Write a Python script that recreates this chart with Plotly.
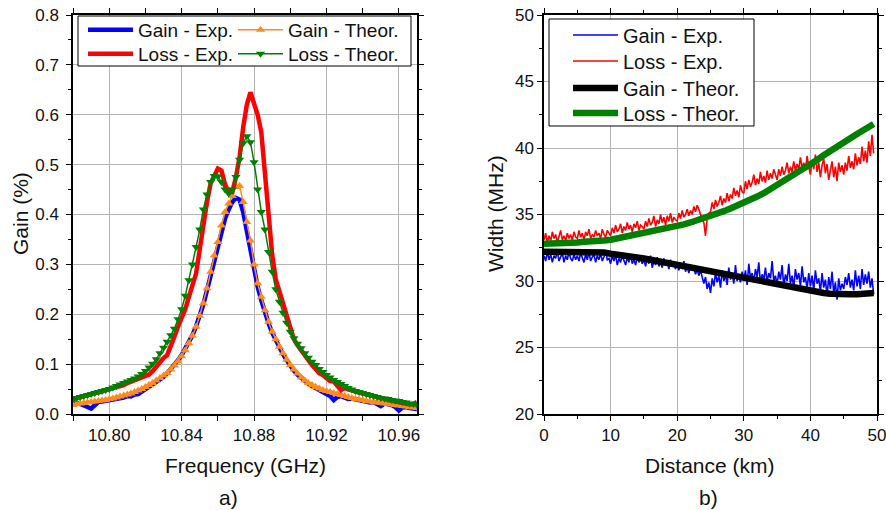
import numpy as np
import plotly.graph_objects as go

# ---------------- Panel a) data ----------------
freq = [round(10.78 + 0.002 * i, 3) for i in range(96)]

gain_exp = [0.020,0.022,0.020,0.018,0.014,0.011,0.018,0.024,0.025,0.026,
            0.027,0.029,0.030,0.030,0.033,0.036,0.035,0.039,0.040,0.045,
            0.050,0.055,0.060,0.066,0.070,0.074,0.082,0.090,0.099,0.108,
            0.118,0.130,0.144,0.158,0.176,0.196,0.220,0.248,0.278,0.310,
            0.338,0.365,0.392,0.410,0.425,0.433,0.430,0.405,0.365,0.330,
            0.290,0.255,0.228,0.203,0.182,0.163,0.147,0.133,0.120,0.108,
            0.096,0.087,0.079,0.072,0.066,0.061,0.056,0.052,0.049,0.045,
            0.040,0.036,0.028,0.034,0.036,0.033,0.030,0.031,0.029,0.027,
            0.026,0.025,0.023,0.024,0.020,0.016,0.021,0.020,0.018,0.014,
            0.007,0.013,0.014,0.012,0.011,0.010]

gain_theor = [0.018,0.020,0.021,0.022,0.023,0.024,0.025,0.026,0.027,0.028,
              0.030,0.031,0.033,0.035,0.037,0.039,0.041,0.044,0.047,0.050,
              0.054,0.058,0.062,0.067,0.072,0.077,0.082,0.089,0.097,0.106,
              0.116,0.128,0.142,0.157,0.175,0.197,0.222,0.252,0.285,0.318,
              0.345,0.378,0.405,0.422,0.437,0.455,0.457,0.425,0.385,0.348,
              0.300,0.262,0.235,0.208,0.185,0.165,0.150,0.135,0.122,0.109,
              0.098,0.089,0.081,0.073,0.067,0.062,0.058,0.054,0.051,0.048,
              0.046,0.044,0.042,0.040,0.038,0.036,0.034,0.032,0.030,0.029,
              0.028,0.026,0.025,0.024,0.023,0.022,0.021,0.020,0.019,0.018,
              0.017,0.016,0.015,0.014,0.013,0.012]

loss_exp = [0.030,0.033,0.034,0.036,0.037,0.040,0.042,0.043,0.045,0.048,
            0.050,0.050,0.052,0.055,0.058,0.062,0.065,0.068,0.070,0.073,
            0.076,0.079,0.086,0.095,0.105,0.112,0.118,0.135,0.155,0.175,
            0.192,0.210,0.235,0.258,0.282,0.330,0.380,0.425,0.462,0.480,
            0.492,0.488,0.460,0.445,0.445,0.475,0.515,0.575,0.620,0.645,
            0.625,0.600,0.565,0.490,0.405,0.320,0.270,0.245,0.222,0.195,
            0.170,0.150,0.138,0.128,0.116,0.106,0.098,0.090,0.082,0.078,
            0.072,0.066,0.065,0.057,0.048,0.052,0.049,0.047,0.045,0.043,
            0.041,0.039,0.037,0.035,0.033,0.031,0.030,0.028,0.027,0.025,
            0.024,0.022,0.020,0.019,0.020,0.024]

loss_theor = [0.030,0.032,0.034,0.036,0.038,0.040,0.042,0.044,0.046,0.048,
              0.050,0.053,0.056,0.059,0.062,0.065,0.068,0.071,0.075,0.080,
              0.086,0.093,0.101,0.110,0.122,0.133,0.145,0.158,0.171,0.190,
              0.210,0.237,0.268,0.300,0.335,0.370,0.410,0.440,0.465,0.477,
              0.476,0.465,0.450,0.442,0.450,0.475,0.510,0.543,0.557,0.545,
              0.505,0.450,0.405,0.370,0.325,0.285,0.250,0.225,0.203,0.183,
              0.165,0.152,0.141,0.132,0.122,0.113,0.105,0.098,0.090,0.084,
              0.078,0.073,0.068,0.064,0.060,0.056,0.052,0.049,0.046,0.044,
              0.042,0.040,0.038,0.036,0.034,0.032,0.031,0.030,0.028,0.027,
              0.026,0.024,0.023,0.021,0.020,0.018]

freq_ticks = [10.80, 10.84, 10.88, 10.92, 10.96]
freq_minor = [10.78, 10.82, 10.86, 10.90, 10.94]

# ---------------- Panel b) data ----------------
dist = [0.25 * i for i in range(199)]

width_gain_exp = [
    31.9,31.5,32.2,31.6,32.0,31.4,31.9,31.7,32.3,31.5,31.8,32.1,31.4,31.9,31.6,32.2,31.7,31.5,32.0,31.6,
    31.9,31.5,32.1,31.7,31.4,32.0,31.6,32.2,31.5,31.8,32.0,31.4,31.9,31.6,32.1,31.5,31.8,32.3,31.6,31.7,
    31.3,31.9,31.5,32.0,31.2,31.7,31.4,31.9,31.6,31.2,31.8,31.4,32.0,31.3,31.6,31.2,31.8,31.4,31.7,31.3,
    31.6,31.1,31.7,31.3,31.9,31.0,31.5,31.2,31.8,31.1,31.4,31.0,31.7,31.2,31.5,30.9,31.6,31.1,31.3,30.9,
    31.4,30.8,31.3,30.9,31.5,30.7,31.1,30.6,31.2,30.8,31.0,30.5,30.9,30.4,30.8,30.2,29.8,30.3,29.4,29.9,
    29.1,30.2,29.6,30.6,29.9,30.4,29.5,30.8,30.0,30.5,29.7,31.0,30.1,30.6,29.8,31.2,30.0,30.4,29.9,30.7,
    30.0,30.8,29.7,31.3,30.2,30.6,29.9,30.9,30.3,31.4,29.8,30.5,30.1,31.0,29.9,30.6,30.2,31.5,30.0,30.4,
    29.7,30.7,30.1,31.2,29.6,30.5,30.0,31.3,29.8,30.4,29.5,30.9,30.1,30.6,29.6,31.1,29.9,30.3,29.4,30.6,
    29.6,30.4,29.3,30.8,29.8,30.2,29.2,30.6,29.5,30.1,28.9,30.3,29.4,30.7,29.1,29.9,28.6,30.2,29.3,29.8,
    29.4,30.3,29.7,30.6,29.5,30.1,29.3,30.8,29.6,30.4,29.4,30.9,29.7,30.5,29.8,30.7,29.5,30.2,29.0]

width_loss_exp = [
    33.1,33.6,32.9,33.4,33.0,33.7,33.2,33.5,32.9,33.3,33.8,33.1,33.4,33.0,33.6,33.2,33.5,33.1,33.7,33.3,
    33.2,33.8,33.3,33.6,33.1,33.7,33.4,33.9,33.2,33.5,33.3,33.8,33.4,33.6,33.2,33.9,33.5,33.3,33.8,33.6,
    33.4,34.0,33.6,34.2,33.7,33.9,34.3,33.6,34.1,33.8,34.4,33.9,34.2,33.7,34.3,34.0,34.5,33.8,34.2,34.1,
    33.9,34.5,34.1,34.7,34.2,34.4,34.9,34.1,34.6,34.3,35.0,34.4,34.8,34.2,34.9,34.5,35.1,34.4,34.8,34.6,
    34.5,35.1,34.7,35.3,34.8,35.0,35.4,34.9,35.3,35.0,35.6,35.2,35.7,35.4,35.0,34.6,34.4,33.4,34.7,35.1,
    35.2,35.9,35.4,36.1,35.6,35.9,36.4,35.7,36.2,35.9,36.6,36.0,36.5,36.2,37.0,36.4,36.8,36.3,37.2,36.7,
    36.6,37.5,36.9,37.6,37.1,37.4,38.0,37.2,37.7,37.3,38.2,37.5,37.9,37.4,38.3,37.6,38.1,37.7,38.4,37.9,
    37.6,38.4,37.9,38.6,38.0,38.3,38.9,38.1,38.6,38.2,39.0,38.3,38.8,38.4,39.3,38.5,38.9,38.3,39.4,38.6,
    38.0,39.1,38.4,39.5,38.2,38.9,37.8,38.7,39.2,38.1,38.8,37.6,38.5,39.0,37.8,38.6,37.5,38.9,38.2,38.7,
    38.0,38.9,38.3,39.4,38.5,39.0,38.4,39.6,38.7,39.3,38.8,40.1,39.0,39.8,38.9,40.5,39.4,41.0,39.6]

dist_theor = list(range(50)) + [49.5]

width_gain_theor = [32.2,32.2,32.2,32.2,32.2,32.2,32.2,32.2,32.2,32.15,
                    32.05,32.0,31.9,31.85,31.75,31.7,31.6,31.5,31.45,31.35,
                    31.25,31.15,31.0,30.9,30.8,30.7,30.6,30.5,30.4,30.3,
                    30.2,30.1,30.0,29.95,29.85,29.75,29.65,29.55,29.45,29.35,
                    29.25,29.2,29.1,29.05,29.0,29.0,29.0,29.0,29.05,29.1,29.1]

width_loss_theor = [32.8,32.8,32.85,32.85,32.9,32.9,32.95,32.95,33.0,33.05,
                    33.1,33.2,33.25,33.35,33.45,33.55,33.65,33.75,33.85,33.95,
                    34.1,34.25,34.4,34.55,34.7,34.85,35.05,35.25,35.45,35.65,
                    35.85,36.1,36.35,36.6,36.9,37.2,37.5,37.8,38.15,38.5,
                    38.8,39.1,39.45,39.8,40.1,40.4,40.75,41.05,41.35,41.6,41.8]

FONT = "Liberation Sans, Arial, sans-serif"
W, H = 886, 510

fig = go.Figure()

# Panel a traces (each in its own one-entry legend, positioned like the reference's 2x2 legend)
fig.add_trace(go.Scatter(x=freq, y=gain_exp, mode="lines", name="Gain - Exp.",
                         line=dict(color="#0000ff", width=4.5), xaxis="x", yaxis="y", legend="legend"))
fig.add_trace(go.Scatter(x=freq, y=gain_theor, mode="lines+markers", name="Gain - Theor.",
                         line=dict(color="#ff8c1a", width=1.5),
                         marker=dict(symbol="triangle-up", size=8, color="#ff8c1a"),
                         xaxis="x", yaxis="y", legend="legend2"))
fig.add_trace(go.Scatter(x=freq, y=loss_exp, mode="lines", name="Loss - Exp.",
                         line=dict(color="#ff0000", width=4.5), xaxis="x", yaxis="y", legend="legend3"))
fig.add_trace(go.Scatter(x=freq, y=loss_theor, mode="lines+markers", name="Loss - Theor.",
                         line=dict(color="#008000", width=1.5),
                         marker=dict(symbol="triangle-down", size=8, color="#008000"),
                         xaxis="x", yaxis="y", legend="legend4"))

# Panel b traces
fig.add_trace(go.Scatter(x=dist, y=width_gain_exp, mode="lines", name="Gain - Exp.",
                         line=dict(color="#0000ff", width=1.6), xaxis="x2", yaxis="y2", legend="legend5"))
fig.add_trace(go.Scatter(x=dist, y=width_loss_exp, mode="lines", name="Loss - Exp.",
                         line=dict(color="#ff0000", width=1.6), xaxis="x2", yaxis="y2", legend="legend6"))
fig.add_trace(go.Scatter(x=dist_theor, y=width_gain_theor, mode="lines", name="Gain - Theor.",
                         line=dict(color="#000000", width=6.5), xaxis="x2", yaxis="y2", legend="legend7"))
fig.add_trace(go.Scatter(x=dist_theor, y=width_loss_theor, mode="lines", name="Loss - Theor.",
                         line=dict(color="#008000", width=6.5), xaxis="x2", yaxis="y2", legend="legend8"))

y_dom = [1 - 414 / H, 1 - 15 / H]
tick_font = dict(family=FONT, size=17, color="#111")
common = dict(showline=True, linecolor="black", linewidth=1.5, mirror="ticks",
              ticks="outside", ticklen=5, tickwidth=1.2, tickcolor="black",
              showgrid=True, gridcolor="#b4b4b4", gridwidth=1, zeroline=False,
              tickfont=tick_font, automargin=False, ticklabeloverflow="allow")

fig.update_layout(
    width=W, height=H, margin=dict(l=0, r=0, t=0, b=0, autoexpand=False),
    paper_bgcolor="white", plot_bgcolor="white",
    font=dict(family=FONT, color="#111"),
    showlegend=True,
    xaxis=dict(domain=[73 / W, 417 / W], range=[10.78, 10.97], anchor="y",
               tickvals=freq_ticks, tickformat=".2f",
               minor=dict(tickvals=freq_minor, ticklen=5, tickcolor="black", ticks="outside", showgrid=False),
               **common),
    yaxis=dict(domain=y_dom, range=[0, 0.8], anchor="x", dtick=0.1, tickformat=".1f",
               ticklabelstandoff=4,
               minor=dict(dtick=0.05, ticklen=3, tickcolor="black", ticks="outside", showgrid=False),
               **common),
    xaxis2=dict(domain=[544 / W, 877 / W], range=[0, 50], anchor="y2", dtick=10,
                minor=dict(dtick=5, ticklen=3, tickcolor="black", ticks="outside", showgrid=False),
                **common),
    yaxis2=dict(domain=y_dom, range=[20, 50], anchor="x2", dtick=5,
                minor=dict(dtick=2.5, ticklen=3, tickcolor="black", ticks="outside", showgrid=False),
                **common),
)

# legend boxes (frames) drawn as shapes
fig.add_shape(type="rect", xref="paper", yref="paper",
              x0=78 / W, x1=411 / W, y0=1 - 66 / H, y1=1 - 16 / H,
              line=dict(color="black", width=1), fillcolor="white", layer="above")
fig.add_shape(type="rect", xref="paper", yref="paper",
              x0=549 / W, x1=754 / W, y0=1 - 126 / H, y1=1 - 19 / H,
              line=dict(color="black", width=1), fillcolor="white", layer="above")

def leg(xtext, ycenter, size, off):
    return dict(x=(xtext - off) / W, y=1 - ycenter / H, xanchor="left", yanchor="middle",
                orientation="v", itemwidth=45, bgcolor="rgba(0,0,0,0)", borderwidth=0,
                font=dict(family=FONT, size=size, color="#111"))

fig.update_layout(
    legend=leg(140, 30, 19, 57),
    legend2=leg(290, 30, 19, 57),
    legend3=leg(140, 54, 19, 57),
    legend4=leg(290, 54, 19, 57),
    legend5=leg(623, 35, 20, 55),
    legend6=leg(623, 61, 20, 55),
    legend7=leg(623, 88, 20, 55),
    legend8=leg(623, 113, 20, 55),
)

ann_font = dict(family=FONT, size=21, color="#111")
anns = [
    dict(text="Gain (%)", x=20 / W, y=1 - 214 / H, textangle=-90),
    dict(text="Frequency (GHz)", x=245 / W, y=1 - 465 / H),
    dict(text="a)", x=228 / W, y=1 - 497 / H),
    dict(text="Width (MHz)", x=495 / W, y=1 - 214 / H, textangle=-90),
    dict(text="Distance (km)", x=710 / W, y=1 - 465 / H),
    dict(text="b)", x=708 / W, y=1 - 497 / H),
]
for a in anns:
    fig.add_annotation(xref="paper", yref="paper", xanchor="center", yanchor="middle",
                       showarrow=False, font=ann_font, **a)

fig.write_html("out.html")
